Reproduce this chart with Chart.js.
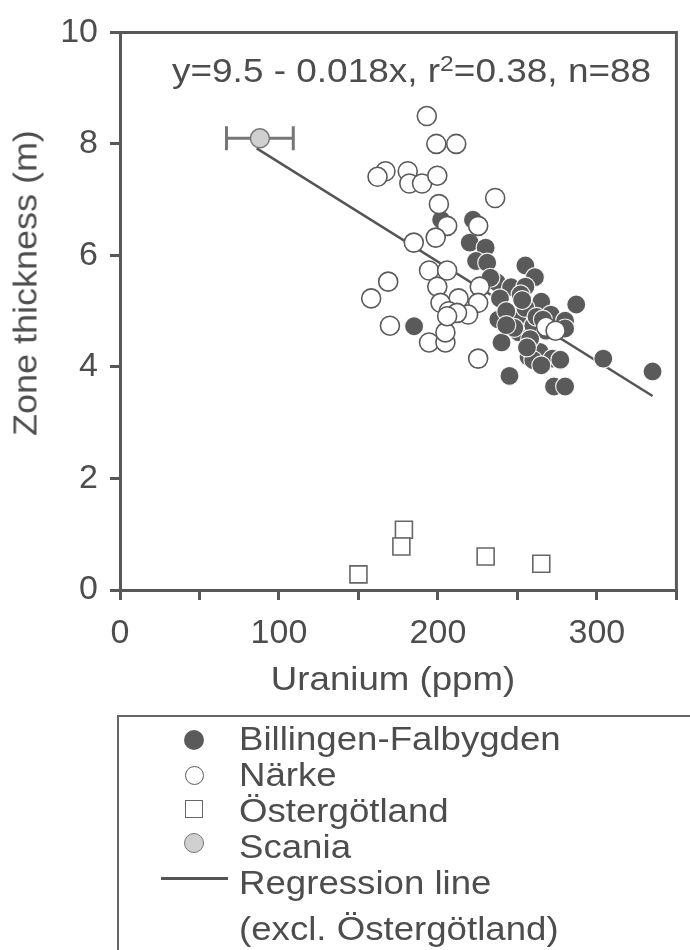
<!DOCTYPE html>
<html>
<head>
<meta charset="utf-8">
<script src="https://cdn.jsdelivr.net/npm/chart.js@4.4.0/dist/chart.umd.min.js"></script>
<style>
html,body{margin:0;padding:0;background:#fff;overflow:hidden}
#wrap{position:relative;width:690px;height:950px;font-family:"Liberation Sans",Arial,sans-serif;color:#4d4d4d}
#chart{position:absolute;left:0;top:0}
.t{position:absolute;font-size:33px;line-height:33px;white-space:nowrap}
#eq{left:172px;top:54px;transform:scaleX(1.12);transform-origin:0 50%}
#eq sup{font-size:22px;line-height:0;vertical-align:0.5em}
#xt{left:393px;top:662px;transform:translateX(-50%) scaleX(1.11)}
#yt{left:25px;top:283px;transform:translate(-50%,-50%) rotate(-90deg) scaleX(1.09)}
#legend{position:absolute;left:117px;top:715px;width:620px;height:260px;border:2px solid #666;box-sizing:border-box}
.row{position:absolute;left:120px;font-size:33px;line-height:36px;white-space:nowrap;transform:scaleX(1.11);transform-origin:0 50%}
.mk{position:absolute;box-sizing:border-box}
</style>
</head>
<body>
<div id="wrap">
  <canvas id="chart" width="690" height="950"></canvas>
  <div class="t" id="eq">y=9.5 - 0.018x, r<sup>2</sup>=0.38, n=88</div>
  <div class="t" id="xt">Uranium (ppm)</div>
  <div class="t" id="yt">Zone thickness (m)</div>
  <div id="legend">
    <span class="mk" style="left:65px;top:13px;width:20px;height:20px;border-radius:50%;background:#5a5a5a"></span>
    <div class="row" style="top:4px">Billingen-Falbygden</div>
    <span class="mk" style="left:66px;top:49px;width:19px;height:19px;border-radius:50%;border:1.5px solid #5a5a5a;background:#fff"></span>
    <div class="row" style="top:40px">Närke</div>
    <span class="mk" style="left:66px;top:83px;width:18px;height:18px;border:1.5px solid #666;background:#fff"></span>
    <div class="row" style="top:76px">Östergötland</div>
    <span class="mk" style="left:65px;top:116px;width:20px;height:20px;border-radius:50%;border:1.5px solid #777;background:#d0d0d0"></span>
    <div class="row" style="top:112px">Scania</div>
    <span class="mk" style="left:42px;top:160px;width:67px;height:3px;background:#555"></span>
    <div class="row" style="top:148px">Regression line</div>
    <div class="row" style="top:194px">(excl. Östergötland)</div>
  </div>
</div>
<script>
// ---------- DATA ----------
const billX=[202,222,220,230,224,231,237,246,255,239,185,238,250,240,245,257,251,261,255,287,265,255,271,280,260,268,280,264,260,272,277,265,304,335,273,280,252,243,262,258,248,253,266,256,233,243];
const billY=[6.64,6.64,6.23,6.14,5.9,5.87,5.52,5.43,5.82,5.23,4.73,4.85,4.85,4.44,3.84,4.18,4.62,5.61,5.44,5.12,5.17,5.06,4.94,4.83,4.74,4.65,4.69,4.27,4.12,4.15,4.13,4.03,4.15,3.92,3.65,3.65,5.3,5.0,4.9,4.5,4.7,5.2,4.85,4.35,5.6,4.75];
const narkeX=[193,199,211.5,167,162,181,182,190,199.6,236,200.6,205.8,198.6,184.8,225.3,194.4,205.8,168.7,158,199.6,226.3,213,201.6,225.3,206.8,219,212,169.8,194.4,204.7,204.7,225.3,205.8,268,274];
const narkeY=[8.5,8.0,8.0,7.51,7.41,7.51,7.29,7.29,7.43,7.03,6.92,6.53,6.32,6.23,6.53,5.73,5.73,5.53,5.23,5.44,5.44,5.23,5.15,5.15,5.0,4.94,4.97,4.74,4.44,4.44,4.62,4.15,4.91,4.72,4.65];
const ostX=[150,178.6,177,230,265];
const ostY=[0.28,1.08,0.78,0.60,0.47];
const scaniaX=[88], scaniaY=[8.1], scaniaLo=[67], scaniaHi=[109];
const regX=[86,335], regY=[7.92,3.48];
const xLabels=[0,100,200,300];
const yLabels=[0,2,4,6,8,10];

const FONT='"Liberation Sans", Arial, sans-serif';
const AX='#585858', TXT='#4d4d4d';
const pts=(xs,ys)=>xs.map((x,i)=>({x:x,y:ys[i]}));

// top + right sides of the frame
const frame={
  id:'frame',
  afterDraw(chart){
    const c=chart.ctx, a=chart.chartArea;
    c.save();
    c.strokeStyle=AX; c.lineWidth=3;
    c.beginPath(); c.moveTo(a.left,a.top); c.lineTo(a.right,a.top); c.lineTo(a.right,a.bottom); c.stroke();
    c.restore();
  }
};
// horizontal error bar on the Scania point
const errBar={
  id:'errBar',
  beforeDatasetDraw(chart,args){
    if(chart.data.datasets[args.index].label!=='Scania') return;
    const c=chart.ctx, sx=chart.scales.x, sy=chart.scales.y;
    c.save(); c.strokeStyle='#777'; c.lineWidth=3;
    scaniaX.forEach((v,i)=>{
      const y=sy.getPixelForValue(scaniaY[i]), x0=sx.getPixelForValue(scaniaLo[i]), x1=sx.getPixelForValue(scaniaHi[i]);
      c.beginPath();
      c.moveTo(x0,y); c.lineTo(x1,y);
      c.moveTo(x0,y-12); c.lineTo(x0,y+12);
      c.moveTo(x1,y-12); c.lineTo(x1,y+12);
      c.stroke();
    });
    c.restore();
  }
};

new Chart(document.getElementById('chart'),{
  type:'scatter',
  data:{datasets:[
    {label:'Scania',data:pts(scaniaX,scaniaY),pointStyle:'circle',pointRadius:9.5,pointBackgroundColor:'#d0d0d0',pointBorderColor:'#777',pointBorderWidth:1.5,order:0},
    {label:'Närke',data:pts(narkeX,narkeY),pointStyle:'circle',pointRadius:9.5,pointBackgroundColor:'#fff',pointBorderColor:'#5a5a5a',pointBorderWidth:1.6,order:1},
    {label:'Östergötland',data:pts(ostX,ostY),pointStyle:'rect',pointRadius:12,pointBackgroundColor:'#fff',pointBorderColor:'#666',pointBorderWidth:1.6,order:1},
    {label:'Billingen-Falbygden',data:pts(billX,billY),pointStyle:'circle',pointRadius:9.5,pointBackgroundColor:'#5a5a5a',pointBorderColor:'rgba(255,255,255,0.9)',pointBorderWidth:1.2,order:2},
    {type:'line',label:'Regression line',data:pts(regX,regY),borderColor:'#555',borderWidth:2.5,pointRadius:0,fill:false,order:3}
  ]},
  options:{
    responsive:false,animation:false,devicePixelRatio:1,
    layout:{padding:{left:0,top:26,right:5,bottom:248}},
    plugins:{legend:{display:false},tooltip:{enabled:false}},
    scales:{
      x:{type:'linear',min:0,max:350,
        afterFit(s){s.height=112;},
        ticks:{stepSize:50,autoSkip:false,maxRotation:0,padding:13,color:TXT,font:{family:FONT,size:34},
          callback:v=>xLabels.includes(v)?String(v):''},
        grid:{drawOnChartArea:false,tickLength:10,color:AX,lineWidth:3},
        border:{color:AX,width:3}
      },
      y:{min:0,max:10,
        afterFit(s){s.width=120;},
        ticks:{stepSize:2,autoSkip:false,padding:12,color:TXT,font:{family:FONT,size:34},
          callback:v=>yLabels.includes(v)?String(v):''},
        grid:{drawOnChartArea:false,tickLength:10,color:AX,lineWidth:3},
        border:{color:AX,width:3}
      }
    }
  },
  plugins:[frame,errBar]
});
</script>
</body>
</html>
